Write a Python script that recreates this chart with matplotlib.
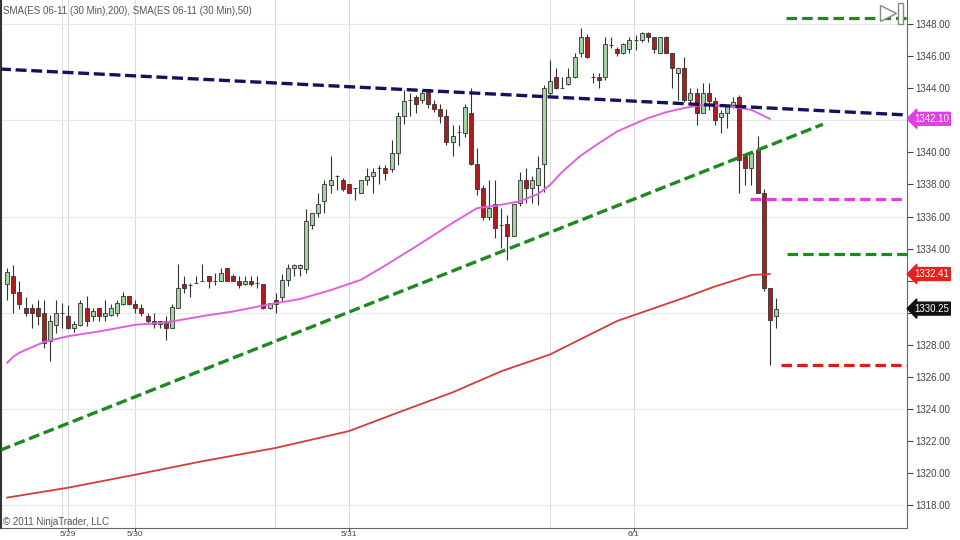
import numpy as np
import matplotlib
matplotlib.use('Agg')
import matplotlib.pyplot as plt
from matplotlib.patches import Rectangle

plt.rcParams['font.family'] = ['Liberation Sans', 'DejaVu Sans']

# 30 min bars, ES 06-11
opens = [1331.78, 1332.30, 1331.26, 1330.30, 1330.30, 1330.30, 1330.00, 1328.20, 1329.25, 1330.00,
         1329.80, 1329.04, 1329.25, 1330.30, 1329.80, 1330.30, 1329.80, 1329.87, 1329.97, 1330.55,
         1331.05, 1330.55, 1330.30, 1329.80, 1329.50, 1329.30, 1329.50, 1329.04, 1330.30, 1331.80,
         1331.74, 1331.84, 1332.00, 1332.26, 1332.00, 1332.00, 1332.78, 1332.26, 1332.00, 1331.80,
         1332.00, 1331.84, 1331.80, 1330.29, 1330.76, 1330.97, 1332.05, 1332.78, 1332.78, 1332.72,
         1335.48, 1336.21, 1336.94, 1337.98, 1338.50, 1338.25, 1338.04, 1337.77, 1337.46, 1338.25,
         1338.50, 1339.02, 1339.02, 1338.96, 1339.96, 1342.28, 1343.28, 1343.49, 1343.28, 1343.95,
         1343.03, 1342.70, 1342.28, 1340.68, 1341.30, 1341.20, 1342.49, 1339.29, 1337.77, 1336.00,
         1336.80, 1335.49, 1335.55, 1334.76, 1336.84, 1338.29, 1337.77, 1337.98, 1339.27, 1343.70,
         1344.74, 1344.00, 1344.26, 1344.74, 1346.19, 1347.23, 1344.74, 1344.74, 1344.74, 1346.72,
         1346.46, 1346.19, 1346.46, 1347.02, 1347.02, 1347.44, 1347.23, 1346.19, 1347.23, 1346.19,
         1344.95, 1345.26, 1343.28, 1343.70, 1342.45, 1343.70, 1343.22, 1342.24, 1342.45, 1342.97,
         1343.49, 1339.75, 1339.02, 1340.16, 1337.46, 1331.54, 1329.77]
highs = [1332.78, 1333.00, 1332.00, 1330.97, 1330.56, 1330.76, 1330.76, 1329.87, 1330.76, 1330.60,
         1330.50, 1329.50, 1330.76, 1331.05, 1330.30, 1330.30, 1330.76, 1330.56, 1330.76, 1331.26,
         1331.05, 1330.76, 1330.56, 1330.00, 1330.00, 1329.50, 1329.80, 1330.56, 1333.05, 1332.30,
         1331.84, 1332.30, 1333.05, 1332.26, 1332.50, 1332.78, 1332.78, 1332.40, 1332.26, 1332.26,
         1332.26, 1332.26, 1331.80, 1330.60, 1331.20, 1332.43, 1333.05, 1333.05, 1333.05, 1336.46,
         1336.25, 1337.46, 1338.29, 1339.75, 1338.60, 1338.40, 1338.04, 1337.77, 1338.25, 1339.02,
         1339.02, 1339.23, 1339.23, 1340.75, 1342.55, 1343.91, 1343.70, 1343.60, 1343.91, 1343.95,
         1343.28, 1343.03, 1342.70, 1341.72, 1341.72, 1343.03, 1344.00, 1340.27, 1337.98, 1338.29,
         1338.29, 1336.53, 1336.11, 1336.80, 1338.81, 1339.02, 1338.50, 1339.75, 1344.22, 1345.78,
         1345.26, 1344.74, 1345.26, 1346.19, 1347.75, 1347.38, 1344.95, 1344.95, 1347.23, 1347.23,
         1346.61, 1346.82, 1347.23, 1347.33, 1347.50, 1347.54, 1347.23, 1347.23, 1347.30, 1346.19,
         1345.26, 1345.98, 1344.00, 1344.01, 1344.32, 1344.32, 1343.49, 1342.66, 1342.97, 1343.49,
         1343.60, 1339.75, 1339.96, 1341.00, 1337.73, 1331.54, 1330.91]
lows = [1330.80, 1329.97, 1330.20, 1329.76, 1329.04, 1329.25, 1327.79, 1327.00, 1328.72, 1329.04,
        1329.00, 1328.80, 1329.14, 1329.14, 1329.45, 1329.45, 1329.45, 1329.76, 1329.80, 1330.50,
        1330.50, 1330.00, 1329.76, 1329.35, 1329.04, 1329.04, 1328.27, 1329.04, 1330.30, 1331.20,
        1331.00, 1331.84, 1331.95, 1331.53, 1331.74, 1332.00, 1332.00, 1331.95, 1331.53, 1331.74,
        1331.64, 1331.53, 1330.20, 1330.20, 1329.97, 1330.70, 1331.68, 1332.26, 1332.26, 1332.47,
        1335.20, 1336.00, 1336.21, 1337.46, 1337.67, 1337.57, 1337.46, 1337.05, 1337.46, 1337.98,
        1337.46, 1338.04, 1338.29, 1338.75, 1339.23, 1341.79, 1342.28, 1342.45, 1343.07, 1342.76,
        1342.55, 1341.83, 1340.48, 1339.75, 1340.40, 1340.95, 1339.23, 1337.36, 1335.80, 1335.76,
        1334.66, 1334.03, 1333.30, 1334.76, 1336.63, 1336.84, 1336.84, 1336.73, 1337.56, 1343.60,
        1343.97, 1344.00, 1344.22, 1344.68, 1345.98, 1345.92, 1344.32, 1344.01, 1344.53, 1346.55,
        1346.05, 1346.13, 1346.19, 1346.40, 1346.92, 1346.92, 1346.19, 1346.19, 1346.19, 1344.01,
        1343.28, 1343.18, 1343.10, 1341.72, 1342.45, 1342.66, 1341.72, 1341.20, 1341.51, 1342.76,
        1337.46, 1337.98, 1337.98, 1337.46, 1331.33, 1326.75, 1329.04]
closes = [1332.51, 1331.20, 1330.53, 1329.97, 1330.00, 1329.80, 1328.10, 1329.50, 1330.00, 1330.00,
          1329.04, 1329.30, 1330.60, 1329.45, 1330.08, 1329.76, 1330.00, 1330.30, 1330.60, 1331.05,
          1330.55, 1330.30, 1329.97, 1329.50, 1329.30, 1329.50, 1329.04, 1330.35, 1331.53, 1331.53,
          1331.74, 1331.84, 1332.00, 1332.00, 1332.00, 1332.50, 1332.00, 1332.00, 1331.74, 1332.00,
          1331.80, 1331.84, 1330.29, 1330.60, 1330.56, 1332.05, 1332.78, 1332.99, 1332.99, 1335.75,
          1336.25, 1336.79, 1338.04, 1338.25, 1338.50, 1337.71, 1337.46, 1337.77, 1338.25, 1338.50,
          1338.75, 1339.02, 1338.71, 1339.96, 1342.28, 1343.24, 1343.28, 1343.03, 1343.70, 1343.03,
          1342.70, 1342.28, 1340.68, 1341.00, 1341.30, 1342.82, 1339.29, 1337.71, 1336.00, 1336.53,
          1335.28, 1335.49, 1334.76, 1336.80, 1338.29, 1337.77, 1338.29, 1339.02, 1344.01, 1344.47,
          1344.01, 1344.00, 1344.74, 1345.98, 1347.23, 1345.98, 1344.74, 1344.53, 1346.75, 1346.72,
          1346.19, 1346.75, 1347.02, 1347.02, 1347.44, 1347.23, 1346.46, 1347.23, 1346.19, 1345.26,
          1345.26, 1343.28, 1343.70, 1342.45, 1343.70, 1343.22, 1342.03, 1342.45, 1342.87, 1343.18,
          1339.54, 1339.02, 1339.96, 1337.46, 1331.54, 1329.56, 1330.25]

# moving averages (at these bars)
sma200_bars = [0, 10, 21, 32, 44, 56, 64, 73, 81, 89, 100, 111, 116, 122, 125]
sma200 = [1318.45, 1319.07, 1319.88, 1320.72, 1321.55, 1322.60, 1323.75, 1325.02, 1326.34,
          1327.39, 1329.48, 1330.93, 1331.63, 1332.35, 1332.41]
sma50_bars = [0, 1, 2, 6, 10, 15, 21, 26, 32, 37, 43, 48, 53, 58, 62, 67, 70, 73, 77, 80, 84,
              87, 89, 91, 94, 97, 100, 105, 108, 111, 114, 117, 119, 122, 125]
sma50 = [1326.87, 1327.25, 1327.50, 1328.16, 1328.53, 1328.82, 1329.24, 1329.38, 1329.78,
         1330.07, 1330.52, 1330.85, 1331.40, 1332.05, 1332.95, 1334.13, 1334.86, 1335.60,
         1336.52, 1336.67, 1336.95, 1337.40, 1337.98, 1338.80, 1339.80, 1340.58, 1341.32,
         1342.14, 1342.51, 1342.78, 1342.97, 1342.92, 1342.84, 1342.66, 1342.10]

# drawn trend lines
resist_x = [-1.2, 147.5]
resist_y = [1345.21, 1342.34]
support_x = [-1.2, 133.7]
support_y = [1321.40, 1341.76]

# horizontal levels on the right
level_values = [1348.41, 1337.10, 1333.65, 1326.70]
level_starts = [127.7, 121.8, 127.8, 126.8]

tag_values = [1342.10, 1332.41, 1330.25]

date_ticks = [9.9, 20.9, 56.0, 102.7]
date_labels = ['5/29', '5/30', '5/31', '6/1']
grid_x = [9.0, 9.9, 20.9, 43.9, 56.0, 88.9, 102.7]
grid_y = [1318, 1324, 1330, 1336, 1342, 1348]
price_ticks = list(range(1318, 1350, 2))

fig = plt.figure(figsize=(9.6, 5.4), dpi=100)
ax = fig.add_axes([0.001, 0.0222, 0.9438, 0.9778])
ax.set_xlim(-1.03, 147.5)
ax.set_ylim(1316.55, 1349.52)

for gx in grid_x:
    ax.axvline(gx, color='#dcdcdc', lw=0.8, zorder=0)
for gy in grid_y:
    ax.axhline(gy, color='#e8e8e8', lw=0.8, zorder=0)

# candles
o = np.array(opens)
h = np.array(highs)
l = np.array(lows)
c = np.array(closes)
x = np.arange(len(o))
up = c >= o
ax.vlines(x, l, h, color='#333333', lw=0.8, zorder=2)
ax.bar(x, np.abs(c - o), bottom=np.minimum(o, c), width=0.66,
       color=np.where(up, '#a3d3a3', '#b01c1c'), edgecolor='#333333',
       linewidth=0.6, zorder=2.5)

# indicators
ax.plot(sma200_bars, sma200, color='#d63a3a', lw=1.3, zorder=3)
ax.plot(sma50_bars, sma50, color='#e060e0', lw=1.4, zorder=3)

ax.plot(resist_x, resist_y, color='#12125e', lw=2.4, dashes=(3.3, 1.4), zorder=4)
ax.plot(support_x, support_y, color='#1e8a1e', lw=2.4, dashes=(3.3, 1.4), zorder=4)

level_colors = ['#1e8a1e', '#e040e0', '#1e8a1e', '#dd1c1c']
for val, start, col in zip(level_values, level_starts, level_colors):
    ax.plot([start, 147.5], [val, val], color=col, lw=2.3, dashes=(3.3, 1.6), zorder=4)

# price tags on the axis (they sit over the tick labels they hide)
tag_colors = ['#e040e0', '#e8201c', '#111111']
for val, col in zip(tag_values, tag_colors):
    ax.annotate(f'{val:.2f}', xy=(1.0, val), xycoords=ax.get_yaxis_transform(),
                xytext=(5, 0), textcoords='offset points', ha='left', va='center',
                fontsize=7, color='white', zorder=10, annotation_clip=False,
                bbox=dict(boxstyle='larrow,pad=0.15', fc=col, ec=col))

hidden = [1330, 1332, 1342]
ax.yaxis.tick_right()
ax.set_yticks(price_ticks)
ax.set_yticklabels(['' if p in hidden else f'{p:.2f}' for p in price_ticks])
ax.set_xticks(date_ticks)
ax.set_xticklabels(date_labels)
ax.tick_params(axis='y', labelsize=7, colors='#444444', length=4, width=0.8, pad=2)
ax.tick_params(axis='x', labelsize=6, colors='#444444', length=2, width=0.8, pad=0)
ax.spines['top'].set_visible(False)
ax.spines['left'].set_color('#333333')
ax.spines['left'].set_linewidth(1.5)
ax.spines['right'].set_color('#666666')
ax.spines['bottom'].set_color('#666666')

# scroll marker top right
ax.plot([0.979], [0.9745], marker='>', ms=11, mfc='white', mec='#888888', mew=1,
        transform=ax.transAxes, clip_on=False, zorder=11)
ax.add_patch(Rectangle((0.990, 0.955), 0.0056, 0.039, transform=ax.transAxes,
                       fc='white', ec='#888888', lw=1, zorder=11, clip_on=False))

fig.text(0.003, 0.988, 'SMA(ES 06-11 (30 Min),200), SMA(ES 06-11 (30 Min),50)',
         fontsize=7, color='#555555', va='top', ha='left')
fig.text(0.003, 0.0335, '\u00a9 2011 NinjaTrader, LLC', fontsize=7, color='#555555',
         va='center', ha='left')

fig.savefig('out.png', dpi=100)
